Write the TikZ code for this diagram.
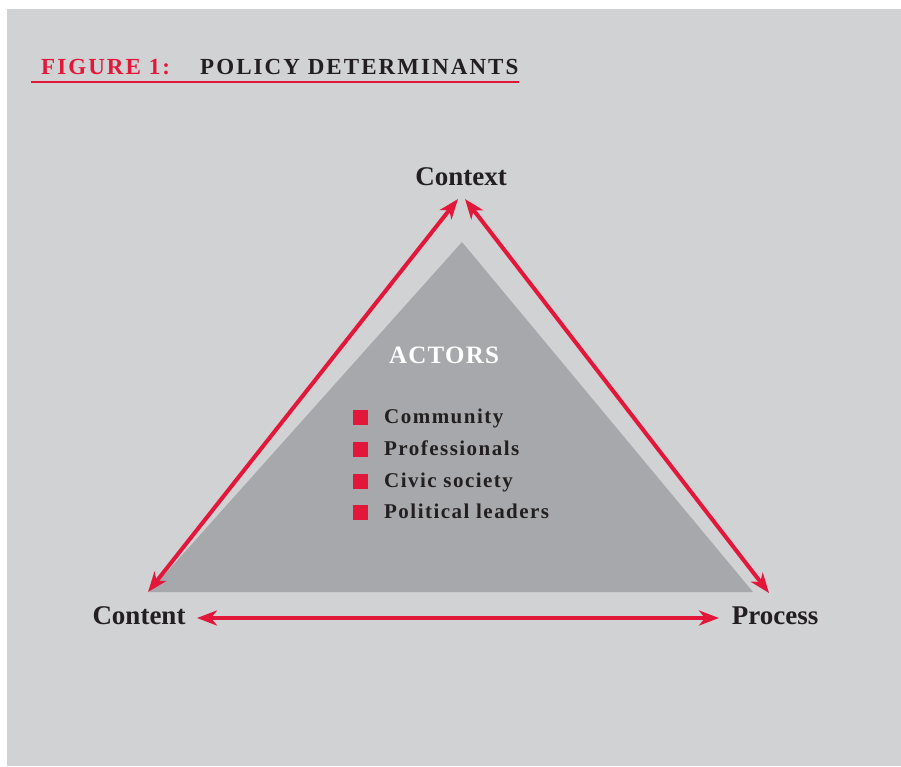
\documentclass[tikz,border=0pt]{standalone}
\usepackage{fontspec}
\setmainfont{Liberation Serif}
\usetikzlibrary{arrows.meta}
\definecolor{panelgray}{HTML}{D1D2D4}
\definecolor{trigray}{HTML}{A7A8AB}
\definecolor{figred}{HTML}{E3173A}
\definecolor{inkblack}{HTML}{231F20}
\begin{document}
\begin{tikzpicture}[x=1pt, y=-1pt,
  corner/.style={font={\fontsize{27}{30}\selectfont\bfseries}, text=inkblack, anchor=base, inner sep=0pt},
  heading/.style={font={\fontsize{23}{26}\selectfont\bfseries\addfontfeature{LetterSpace=9}}, anchor=base west, inner sep=0pt},
  item/.style={font={\fontsize{21}{24}\selectfont\bfseries\addfontfeature{LetterSpace=7}}, text=inkblack, anchor=base west, inner sep=0pt},
  bullet/.style={fill=figred, minimum size=15pt, inner sep=0pt},
  link/.style={draw=figred, line width=4pt, {Stealth[length=20pt,width=15pt,inset=6pt]}-{Stealth[length=20pt,width=15pt,inset=6pt]}}]
  \useasboundingbox (0,0) rectangle (901,766);
  \fill[panelgray] (7,9) rectangle (901,766);
  % title
  \node(figno) [heading, text=figred] at (41,74) {FIGURE 1:};
  \node(title) [heading, text=inkblack] at (200,74) {POLICY DETERMINANTS};
  \draw[figred, line width=1.5pt] (31,82) -- (519,82);
  % actors triangle
  \fill[trigray] (462,242) -- (753,592) -- (149,592) -- cycle;
  \node(actors) [font={\fontsize{25}{28}\selectfont\bfseries\addfontfeature{LetterSpace=5}}, text=white, anchor=base, inner sep=0pt] at (444,363) {ACTORS};
  \node(b1) [bullet] at (360.5,417) {};
  \node(community) [item] at (384,423) {Community};
  \node(b2) [bullet] at (360.5,449) {};
  \node(professionals) [item] at (384,455) {Professionals};
  \node(b3) [bullet] at (360.5,481) {};
  \node(civic) [item] at (384,487) {Civic society};
  \node(b4) [bullet] at (360.5,512) {};
  \node(leaders) [item] at (384,518) {Political leaders};
  % corners
  \node(context) [corner] at (461,185) {Context};
  \node(content) [corner] at (139,624) {Content};
  \node(process) [corner] at (775,624) {Process};
  \coordinate(ctxL) at (458,199);
  \coordinate(ctxR) at (465,199);
  \coordinate(cntT) at (148,592);
  \coordinate(cntR) at (197,618);
  \coordinate(prcT) at (769,593);
  \coordinate(prcL) at (719,618);
  \draw[link](cntT) -- (ctxL);
  \draw[link](ctxR) -- (prcT);
  \draw[link](cntR) -- (prcL);
\end{tikzpicture}
\end{document}
